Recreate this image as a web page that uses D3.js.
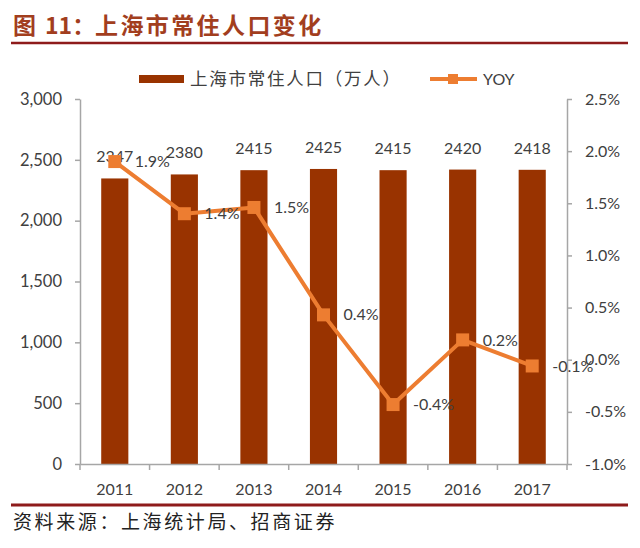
<!DOCTYPE html>
<html><head><meta charset="utf-8">
<script src="https://cdn.jsdelivr.net/npm/d3@7"></script>
<style>
body{margin:0;background:#fff;}
svg{display:block;}
</style></head>
<body>
<svg id="c" width="640" height="548"></svg>
<script>
const years = ["2011","2012","2013","2014","2015","2016","2017"];
const population = [2347, 2380, 2415, 2425, 2415, 2420, 2418];
const yoy = [0.019, 0.0140, 0.0146, 0.0043, -0.0043, 0.0019, -0.0006];
const leftTicks = [0, 500, 1000, 1500, 2000, 2500, 3000];
const rightTicks = [-0.01, -0.005, 0, 0.005, 0.01, 0.015, 0.02, 0.025];
const titleParts = ["图", "11：", "上海市常住人口变化"];
const legendLabels = ["上海市常住人口（万人）", "YOY"];
const sourceText = "资料来源：上海统计局、招商证券";

const loc = d3.formatLocale({decimal:".", thousands:",", grouping:[3], currency:["",""], minus:"-"});
const fmtPct = loc.format(".1%");
const fmtNum = loc.format(",");

const svg = d3.select("#c");
svg.append("rect").attr("width",640).attr("height",548).attr("fill","#fff");

const L = 80, R = 567, T = 99, B = 464;
const barColor = "#993300", lineColor = "#ED7D31", axisColor = "#A6A6A6", textColor = "#404040";
const latin = "Lato, 'Open Sans', sans-serif";
const cjk = "'Noto Sans CJK SC', sans-serif";

// Title
const titleColor = "#A23E1E";
const tx = [13, 45, 95];
const tls = [0, 0, 2.4];
titleParts.forEach((t,i)=>{
  svg.append("text").attr("x",tx[i]).attr("y",34).text(t)
    .attr("font-family", cjk).attr("font-weight","bold").attr("font-size",23)
    .attr("letter-spacing", tls[i]).attr("fill", titleColor);
});
svg.append("line").attr("x1",11).attr("x2",628).attr("y1",43).attr("y2",43)
  .attr("stroke","#8E1B1B").attr("stroke-width",2.5);

// Scales
const x = d3.scaleBand().domain(years).range([L,R]).paddingInner(0.61).paddingOuter(0.305);
const yL = d3.scaleLinear().domain([0,3000]).range([B,T]);
const yR = d3.scaleLinear().domain([-0.01,0.025]).range([B,T]);

// Bars
svg.append("g").selectAll("rect").data(years).join("rect")
  .attr("x", d=>x(d)).attr("width", x.bandwidth())
  .attr("y", (d,i)=>yL(population[i])).attr("height", (d,i)=>B - yL(population[i]))
  .attr("fill", barColor);

// Axes
const axL = svg.append("g").attr("transform",`translate(${L},0)`)
  .call(d3.axisLeft(yL).tickValues(leftTicks).tickFormat(fmtNum).tickSize(5).tickPadding(13).tickSizeOuter(0));
const axR = svg.append("g").attr("transform",`translate(${R},0)`)
  .call(d3.axisRight(yR).tickValues(rightTicks).tickFormat(fmtPct).tickSize(5).tickPadding(13).tickSizeOuter(0));
const axB = svg.append("g").attr("transform",`translate(0,${B})`)
  .call(d3.axisBottom(x).tickSize(0).tickPadding(20));
[axL, axR, axB].forEach(a=>{
  a.selectAll("path,line").attr("stroke", axisColor).attr("stroke-width",1.5);
  a.selectAll("text").attr("font-family", latin).attr("font-size",16).attr("fill", textColor);
});
axL.selectAll("text").attr("font-size",16.5);
// category boundary ticks
const step = x.step();
const bounds = years.map(d=>x(d) + x.bandwidth()/2 - step/2).concat([x(years[years.length-1]) + x.bandwidth()/2 + step/2]);
svg.append("g").selectAll("line").data(bounds).join("line")
  .attr("x1",d=>d).attr("x2",d=>d).attr("y1",B).attr("y2",B+6)
  .attr("stroke", axisColor).attr("stroke-width",1.5);

// Bar labels
svg.append("g").selectAll("text").data(years).join("text")
  .attr("x", d=>x(d)+x.bandwidth()/2).attr("y",(d,i)=>yL(population[i]) - 16)
  .attr("text-anchor","middle").attr("font-family", latin).attr("font-size",16).attr("fill", textColor)
  .text((d,i)=>population[i]);

// Line
const cx = d=>x(d)+x.bandwidth()/2;
svg.append("path").datum(years)
  .attr("d", d3.line().x(d=>cx(d)).y((d,i)=>yR(yoy[i])))
  .attr("fill","none").attr("stroke", lineColor).attr("stroke-width",4).attr("stroke-linejoin","round");
const ms = 13;
svg.append("g").selectAll("rect").data(years).join("rect")
  .attr("x", d=>cx(d)-ms/2).attr("y",(d,i)=>yR(yoy[i])-ms/2)
  .attr("width", ms).attr("height", ms).attr("fill", lineColor);
svg.append("g").selectAll("text").data(years).join("text")
  .attr("x", d=>cx(d)+20).attr("y",(d,i)=>yR(yoy[i])).attr("dy","0.35em")
  .attr("font-family", latin).attr("font-size",16).attr("fill", textColor)
  .text((d,i)=>fmtPct(yoy[i]));

// Legend
const lg = svg.append("g");
lg.append("rect").attr("x",139).attr("y",75).attr("width",45).attr("height",8).attr("fill",barColor);
lg.append("text").attr("x",190).attr("y",79).attr("dy","0.35em").text(legendLabels[0])
  .attr("font-family", cjk).attr("font-size",17.5).attr("letter-spacing",1.75).attr("fill", textColor);
lg.append("line").attr("x1",430).attr("x2",477).attr("y1",79).attr("y2",79)
  .attr("stroke", lineColor).attr("stroke-width",4);
lg.append("rect").attr("x",453-5).attr("y",79-5).attr("width",10).attr("height",10).attr("fill",lineColor);
lg.append("text").attr("x",483).attr("y",79).attr("dy","0.35em").text(legendLabels[1])
  .attr("font-family", latin).attr("font-size",16).attr("fill", textColor);

// Source
svg.append("line").attr("x1",11).attr("x2",628).attr("y1",505).attr("y2",505)
  .attr("stroke","#8E1B1B").attr("stroke-width",3);
svg.append("text").attr("x",13).attr("y",529).text(sourceText)
  .attr("font-family", cjk).attr("font-size",19).attr("letter-spacing",2.6).attr("fill","#222");
</script>
</body></html>
